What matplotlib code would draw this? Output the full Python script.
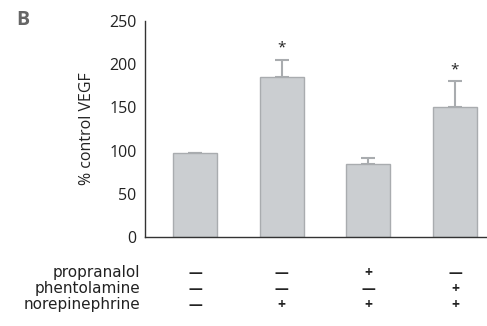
import matplotlib
matplotlib.use("Agg")
import matplotlib.pyplot as plt

plt.rcParams['font.family'] = ['Open Sans', 'DejaVu Sans']

groups = [0, 1, 2, 3]
vegf = [97, 185, 85, 150]
err_up = [0, 20, 7, 30]
signif = [False, True, False, True]
row_names = ['propranalol', 'phentolamine', 'norepinephrine']
propranalol = ['—', '—', '+', '—']
phentolamine = ['—', '—', '—', '+']
norepinephrine = ['—', '+', '+', '+']

bar_col = '#cbced1'
edge_col = '#a9acaf'

fig = plt.figure(figsize=(4.87, 3.26), dpi=100)
ax = fig.add_axes([145/487, 1-237/326, 1-145/487, (237-21)/326])

ax.bar(groups, vegf, width=0.51, color=bar_col, edgecolor=edge_col, linewidth=1.0, zorder=2)
ax.errorbar(groups, vegf, yerr=[[0]*4, err_up], fmt='none', ecolor=edge_col,
            elinewidth=1.5, capsize=5, capthick=1.5, zorder=1)
for x, v, e, s in zip(groups, vegf, err_up, signif):
    if s:
        ax.text(x, v + e + 5, '*', ha='center', va='bottom', fontsize=11, color='#222222')

ax.set_xlim(-0.58, 3.37)
ax.set_ylim(0, 250)
ax.set_yticks([0, 50, 100, 150, 200, 250])
ax.tick_params(axis='y', length=0, pad=6, labelsize=11.5, labelcolor='#222222')
ax.set_xticks([])
for sp in ['top', 'right']:
    ax.spines[sp].set_visible(False)
for sp in ['left', 'bottom']:
    ax.spines[sp].set_color('#333333')
    ax.spines[sp].set_linewidth(1.0)
ax.set_ylabel('% control VEGF', fontsize=11.5, color='#222222', labelpad=10)

# treatment table under the bars
rows = [propranalol, phentolamine, norepinephrine]
for i, (name, signs) in enumerate(zip(row_names, rows)):
    yy = 1 - (273 + 16*i) / 326
    fig.text(140/487, yy, name, ha='right', va='center', fontsize=11,
             family='DejaVu Sans', color='#222222')
    for x, s in zip(groups, signs):
        xp = ax.transData.transform((x, 0))[0] / fig.dpi / fig.get_figwidth()
        fig.text(xp, yy, s, ha='center', va='center', fontsize=10,
                 color='#222222', fontweight='bold')

fig.text(16/487, 1-20/326, 'B', ha='left', va='center', fontsize=14, fontweight='bold', color='#666666')

fig.savefig('out.png', dpi=100)
